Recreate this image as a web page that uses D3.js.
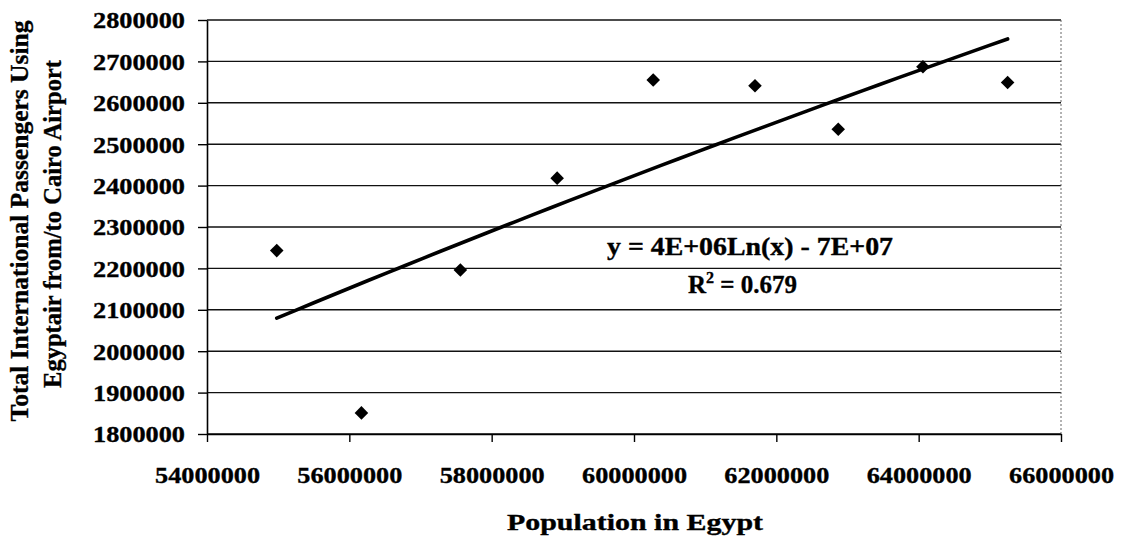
<!DOCTYPE html>
<html>
<head>
<meta charset="utf-8">
<script src="https://cdn.jsdelivr.net/npm/d3@7/dist/d3.min.js"></script>
<style>
  html, body { margin: 0; padding: 0; background: #fff; }
  svg { display: block; }
  text { font-family: "Liberation Serif", "Times New Roman", serif; font-weight: bold; fill: #000; stroke: #000; stroke-width: 0.35px; }
</style>
</head>
<body>
<svg id="chart" width="1127" height="546"></svg>
<script>
// ---- data ----
const population = [54980000, 56170000, 57560000, 58920000, 60270000, 61700000, 62870000, 64060000, 65250000];
const passengers = [2243000, 1851000, 2196000, 2418000, 2655000, 2641000, 2536000, 2687000, 2649000];
const xTicks = [54000000, 56000000, 58000000, 60000000, 62000000, 64000000, 66000000];
const yTicks = [1800000, 1900000, 2000000, 2100000, 2200000, 2300000, 2400000, 2500000, 2600000, 2700000, 2800000];
const xTitle = "Population in Egypt";
const yTitle = ["Total International Passengers Using", "Egyptair from/to Cairo Airport"];
const equationText = "y = 4E+06Ln(x) - 7E+07";
const r2Value = "0.679";

(function () {
// ---- layout ----
const svg = d3.select("#chart");
const pLeft = 207, pRight = 1061, pTop = 20, pBottom = 434;

const x = d3.scaleLinear().domain([54000000, 66000000]).range([pLeft, pRight]);
const y = d3.scaleLinear().domain([1800000, 2800000]).range([pBottom, pTop]);

// gridlines
svg.append("g")
  .selectAll("line")
  .data(yTicks)
  .join("line")
  .attr("x1", pLeft).attr("x2", pRight)
  .attr("y1", d => y(d)).attr("y2", d => y(d))
  .attr("stroke", "#111").attr("stroke-width", 1.4);

// right border (thin, faint)
svg.append("line")
  .attr("x1", pRight).attr("x2", pRight).attr("y1", pTop).attr("y2", pBottom)
  .attr("stroke", "#666").attr("stroke-width", 1).attr("stroke-dasharray", "2,2");

// y axis
const yAxis = svg.append("g")
  .attr("transform", `translate(${pLeft},0)`)
  .call(d3.axisLeft(y).tickValues(yTicks).tickFormat(d3.format("d")).tickSizeInner(9).tickSizeOuter(0).tickPadding(13));
yAxis.select(".domain").attr("stroke", "#000").attr("stroke-width", 1.6);
yAxis.selectAll(".tick line").attr("stroke", "#000").attr("stroke-width", 1.4);
yAxis.selectAll(".tick text")
  .style("font-family", '"Liberation Serif", serif')
  .style("font-weight", "bold")
  .style("font-size", "23px")
  .attr("textLength", 92).attr("lengthAdjust", "spacingAndGlyphs")
  .attr("dy", "0.34em");

// x axis
const xAxis = svg.append("g")
  .attr("transform", `translate(0,${pBottom})`)
  .call(d3.axisBottom(x).tickValues(xTicks).tickFormat(d3.format("d")).tickSizeInner(8).tickSizeOuter(0).tickPadding(0));
xAxis.select(".domain").attr("stroke", "#000").attr("stroke-width", 1.6);
xAxis.selectAll(".tick line").attr("stroke", "#000").attr("stroke-width", 1.4);
xAxis.selectAll(".tick text")
  .style("font-family", '"Liberation Serif", serif')
  .style("font-weight", "bold")
  .style("font-size", "24px")
  .attr("textLength", 105).attr("lengthAdjust", "spacingAndGlyphs")
  .attr("y", 0).attr("dy", 0)
  .attr("transform", "translate(0,49)");

// trend line: logarithmic least-squares fit computed from the data
const lx = population.map(v => Math.log(v));
const mL = d3.mean(lx), mY = d3.mean(passengers);
const a = d3.sum(lx.map((l, i) => (l - mL) * (passengers[i] - mY))) / d3.sum(lx.map(l => (l - mL) ** 2));
const b = mY - a * mL;
const xMin = d3.min(population), xMax = d3.max(population);
const trend = d3.range(0, 41).map(i => {
  const xv = xMin + (xMax - xMin) * i / 40;
  return [xv, a * Math.log(xv) + b];
});
svg.append("path")
  .datum(trend)
  .attr("fill", "none")
  .attr("stroke", "#000")
  .attr("stroke-width", 3.6)
  .attr("stroke-linecap", "round")
  .attr("d", d3.line().x(d => x(d[0])).y(d => y(d[1])));

// points (diamonds)
svg.append("g")
  .selectAll("path")
  .data(population.map((p, i) => [p, passengers[i]]))
  .join("path")
  .attr("d", d3.symbol(d3.symbolSquare).size(92))
  .attr("transform", d => `translate(${x(d[0])},${y(d[1])}) rotate(45)`)
  .attr("fill", "#000");

// equation + R²
svg.append("text")
  .attr("x", 750).attr("y", 255)
  .attr("text-anchor", "middle")
  .style("font-size", "25px")
  .attr("textLength", 286).attr("lengthAdjust", "spacingAndGlyphs")
  .text(equationText);

const r2 = svg.append("text")
  .attr("x", 688).attr("y", 293)
  .style("font-size", "25px");
r2.append("tspan").text("R");
r2.append("tspan").attr("dy", -10).style("font-size", "16px").text("2");
r2.append("tspan").attr("dy", 10).text(" = " + r2Value);

// axis titles
svg.append("text")
  .attr("x", 635).attr("y", 530)
  .attr("text-anchor", "middle")
  .style("font-size", "23px")
  .attr("textLength", 256).attr("lengthAdjust", "spacingAndGlyphs")
  .text(xTitle);

const yT = svg.append("g");
yT.append("text")
  .attr("transform", "translate(28,221) rotate(-90)")
  .attr("text-anchor", "middle")
  .style("font-size", "26px")
  .attr("textLength", 401).attr("lengthAdjust", "spacingAndGlyphs")
  .text(yTitle[0]);
yT.append("text")
  .attr("transform", "translate(61,224) rotate(-90)")
  .attr("text-anchor", "middle")
  .style("font-size", "26px")
  .attr("textLength", 328).attr("lengthAdjust", "spacingAndGlyphs")
  .text(yTitle[1]);
})();
</script>
</body>
</html>
